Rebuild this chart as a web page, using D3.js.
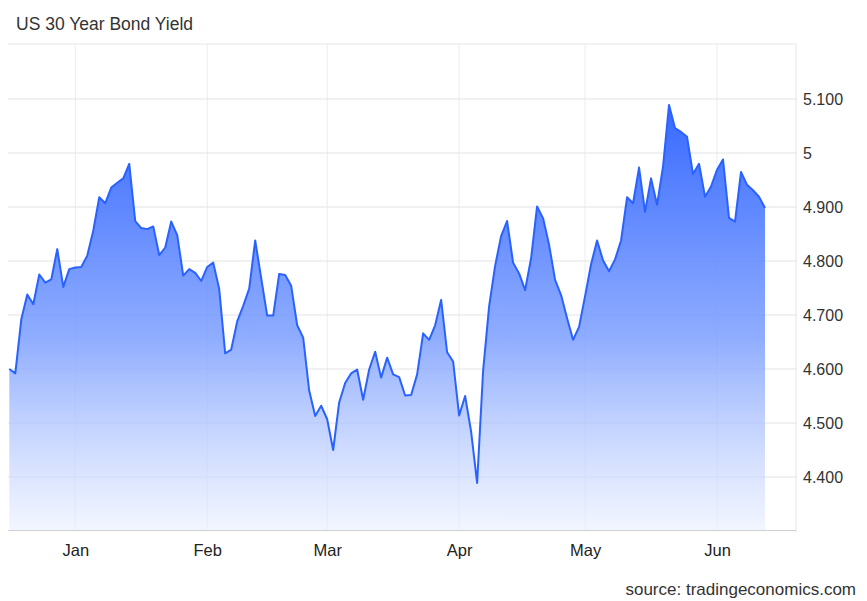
<!DOCTYPE html>
<html><head><meta charset="utf-8">
<script src="https://cdn.jsdelivr.net/npm/d3@7"></script>
<style>body{margin:0;background:#fff;}svg{display:block;font-family:"Liberation Sans",Arial,sans-serif;}</style>
</head><body><svg id="c" width="867" height="601"></svg>
<script>
const title = "US 30 Year Bond Yield";
const source = "source: tradingeconomics.com";
const yields = [4.600,4.592,4.692,4.738,4.720,4.775,4.760,4.766,4.822,4.752,4.785,4.788,4.789,4.810,4.856,4.918,4.907,4.936,4.945,4.953,
4.980,4.874,4.861,4.859,4.864,4.811,4.825,4.873,4.848,4.773,4.785,4.778,4.763,4.789,4.797,4.748,4.629,4.636,4.688,4.717,
4.749,4.838,4.768,4.699,4.699,4.776,4.774,4.754,4.681,4.658,4.560,4.513,4.532,4.507,4.450,4.538,4.574,4.592,4.599,4.543,
4.599,4.632,4.584,4.621,4.590,4.585,4.551,4.552,4.590,4.666,4.654,4.681,4.728,4.631,4.614,4.514,4.550,4.484,4.389,4.597,
4.716,4.791,4.846,4.874,4.797,4.777,4.746,4.805,4.901,4.879,4.830,4.765,4.737,4.694,4.654,4.678,4.735,4.794,4.838,4.801,
4.781,4.803,4.838,4.918,4.907,4.973,4.891,4.953,4.904,4.975,5.089,5.046,5.039,5.030,4.961,4.980,4.919,4.938,4.969,4.988,
4.880,4.873,4.965,4.941,4.931,4.919,4.898];
const monthLabels = ["Jan","Feb","Mar","Apr","May","Jun"];
const monthIndex = [11,33,53,75,96,118];
const yTickValues = [4.4,4.5,4.6,4.7,4.8,4.9,5.0,5.1];
const yTickLabels = ["4.400","4.500","4.600","4.700","4.800","4.900","5","5.100"];

const svg = d3.select("#c");
const L = 8, R = 796, T = 44, B = 530;
const x = d3.scaleLinear().domain([0, yields.length-1]).range([9.3, 765]);
const y = d3.scaleLinear().domain([4.4, 5.1]).range([477, 99]);

svg.append("text").attr("x",16).attr("y",30).attr("font-size",17.5).attr("fill","#333").text(title);

const defs = svg.append("defs");
const g = defs.append("linearGradient").attr("id","fillg").attr("gradientUnits","userSpaceOnUse")
  .attr("x1",0).attr("x2",0).attr("y1",y(5.1)).attr("y2",B);
g.append("stop").attr("offset","0%").attr("stop-color","#2f63ff").attr("stop-opacity",0.98);
g.append("stop").attr("offset","55%").attr("stop-color","#7a9dff").attr("stop-opacity",0.85);
g.append("stop").attr("offset","100%").attr("stop-color","#e9efff").attr("stop-opacity",0.6);

// grid
svg.append("g").selectAll("line").data(monthIndex).join("line")
  .attr("x1",d=>x(d)).attr("x2",d=>x(d)).attr("y1",T).attr("y2",B)
  .attr("stroke","#e8ecf3").attr("stroke-width",1);
svg.append("g").selectAll("line").data(yTickValues).join("line")
  .attr("x1",L).attr("x2",R+1).attr("y1",d=>y(d)).attr("y2",d=>y(d))
  .attr("stroke","#e3e3e3").attr("stroke-width",1);
svg.append("line").attr("x1",L).attr("x2",R).attr("y1",T).attr("y2",T).attr("stroke","#e6e6e6");
svg.append("line").attr("x1",R).attr("x2",R).attr("y1",T).attr("y2",B+2).attr("stroke","#e6e6e6");

// area and line
const area = d3.area().x((d,i)=>x(i)).y0(B).y1(d=>y(d));
svg.append("path").datum(yields).attr("d",area).attr("fill","url(#fillg)");
const line = d3.line().x((d,i)=>x(i)).y(d=>y(d));
svg.append("path").datum(yields).attr("d",line).attr("fill","none")
  .attr("stroke","#2962ff").attr("stroke-width",2).attr("stroke-linejoin","round");

// bottom axis line
svg.append("line").attr("x1",L).attr("x2",R).attr("y1",B+0.5).attr("y2",B+0.5).attr("stroke","#d0d0d0");

// x labels
const xAxis = d3.axisBottom(x).tickValues(monthIndex).tickFormat((d,i)=>monthLabels[i]).tickSize(0).tickPadding(0);
const xg = svg.append("g").attr("transform",`translate(0,${B})`).call(xAxis);
xg.select(".domain").remove();
xg.selectAll("text").attr("font-size",16.5).attr("fill","#222").attr("dy",null).attr("y",26)
  .attr("font-family","'Liberation Sans',Arial,sans-serif");

// y labels
const yAxis = d3.axisRight(y).tickValues(yTickValues).tickFormat((d,i)=>yTickLabels[i]).tickSize(0).tickPadding(0);
const yg = svg.append("g").attr("transform",`translate(803,0)`).call(yAxis);
yg.select(".domain").remove();
yg.selectAll("text").attr("font-size",16).attr("fill","#333").attr("x",0)
  .attr("font-family","'Liberation Sans',Arial,sans-serif");

svg.append("text").attr("x",856).attr("y",595).attr("text-anchor","end").attr("font-size",17).attr("fill","#333").text(source);
</script></body></html>
